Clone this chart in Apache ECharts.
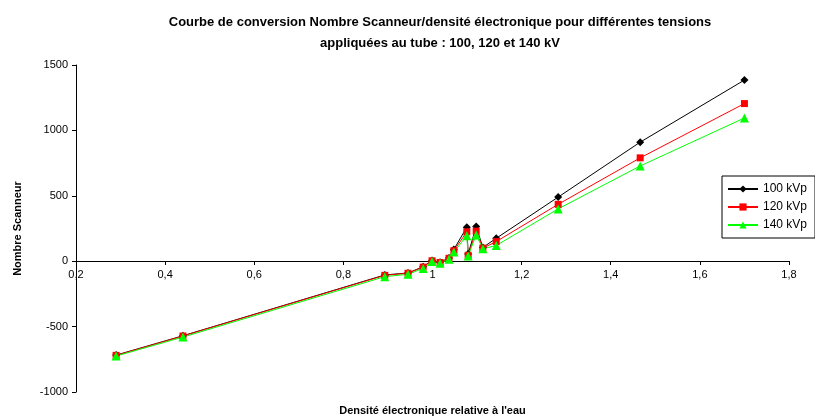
<!DOCTYPE html>
<html>
<head>
<meta charset="utf-8">
<script src="https://cdn.jsdelivr.net/npm/echarts@6/dist/echarts.min.js"></script>
<style>
  html, body { margin: 0; padding: 0; background: #fff; }
</style>
</head>
<body>
<div id="main" style="width: 815px;height:419px;"></div>
<script>
// densité électronique relative à l'eau
var densite = [0.29, 0.44, 0.893, 0.945, 0.979, 0.999, 1.017, 1.037, 1.048, 1.077, 1.08, 1.098, 1.113, 1.143, 1.282, 1.466, 1.70]
// nombres scanneur par tension
var kv100 = [-718, -570, -105, -90, -42, 5, -8, 25, 90, 260, 55, 265, 105, 175, 490, 910, 1385]
var kv120 = [-720, -572, -108, -92, -45, 3, -10, 22, 80, 225, 45, 230, 100, 150, 435, 790, 1205]
var kv140 = [-725, -580, -118, -100, -55, -2, -15, 15, 70, 195, 40, 200, 95, 120, 400, 728, 1095]
var noms = ['100 kVp', '120 kVp', '140 kVp']

var font = 'Arial, "Liberation Sans", sans-serif'

function paires(ys) {
  return densite.map(function (x, i) { return [x, ys[i]] })
}

var myChart = echarts.init(document.getElementById('main'))
var options = {
  animation: false,
  textStyle: { fontFamily: font },
  graphic: [
    {
      type: 'text',
      x: 440,
      y: 12,
      style: {
        text: 'Courbe de conversion Nombre Scanneur/densité électronique pour différentes tensions\nappliquées au tube : 100, 120 et 140 kV',
        textAlign: 'center',
        font: 'bold 13px ' + font,
        lineHeight: 21,
        fill: '#000'
      }
    }
  ],
  grid: {
    left: 76,
    right: 26,
    top: 65,
    bottom: 27,
    outerBoundsMode: 'none'
  },
  legend: {
    orient: 'vertical',
    left: 722,
    top: 176,
    padding: [7, 8, 7, 5],
    itemGap: 6,
    itemWidth: 30,
    itemHeight: 9,
    borderColor: '#000',
    borderWidth: 1,
    textStyle: { fontSize: 12, color: '#000', fontFamily: font },
    data: noms
  },
  xAxis: {
    type: 'value',
    min: 0.2,
    max: 1.8,
    interval: 0.2,
    position: 'bottom',
    // l'axe coupe à y = 0 : 131 px au-dessus du bas de la grille
    offset: -131,
    name: 'Densité électronique relative à l\'eau',
    nameLocation: 'middle',
    nameGap: 144,
    nameTextStyle: { fontWeight: 'bold', fontSize: 11, color: '#000' },
    axisLine: { onZero: false, lineStyle: { color: '#000', width: 1 } },
    axisTick: { show: true, length: 4, lineStyle: { color: '#000' } },
    axisLabel: {
      color: '#000',
      fontSize: 11,
      margin: 8,
      formatter: function (v) { return String(+v.toFixed(1)).replace('.', ',') }
    },
    splitLine: { show: false }
  },
  yAxis: {
    type: 'value',
    min: -1000,
    max: 1500,
    interval: 500,
    name: 'Nombre Scanneur',
    nameLocation: 'middle',
    nameGap: 53,
    nameRotate: 90,
    nameTextStyle: { fontWeight: 'bold', fontSize: 11, color: '#000' },
    axisLine: { show: true, lineStyle: { color: '#000', width: 1 } },
    axisTick: { show: true, length: 4, lineStyle: { color: '#000' } },
    axisLabel: {
      color: '#000',
      fontSize: 11,
      margin: 8,
      formatter: function (v) { return String(v) }
    },
    splitLine: { show: false }
  },
  series: [
    {
      name: noms[0],
      type: 'line',
      data: paires(kv100),
      symbol: 'diamond',
      symbolSize: 8,
      itemStyle: { color: '#000' },
      lineStyle: { color: '#000', width: 1 }
    },
    {
      name: noms[1],
      type: 'line',
      data: paires(kv120),
      symbol: 'rect',
      symbolSize: 7,
      itemStyle: { color: '#ff0000' },
      lineStyle: { color: '#ff0000', width: 1 }
    },
    {
      name: noms[2],
      type: 'line',
      data: paires(kv140),
      symbol: 'triangle',
      symbolSize: 9,
      itemStyle: { color: '#00ff00' },
      lineStyle: { color: '#00ff00', width: 1 }
    }
  ]
}
myChart.setOption(options)
</script>
</body>
</html>
